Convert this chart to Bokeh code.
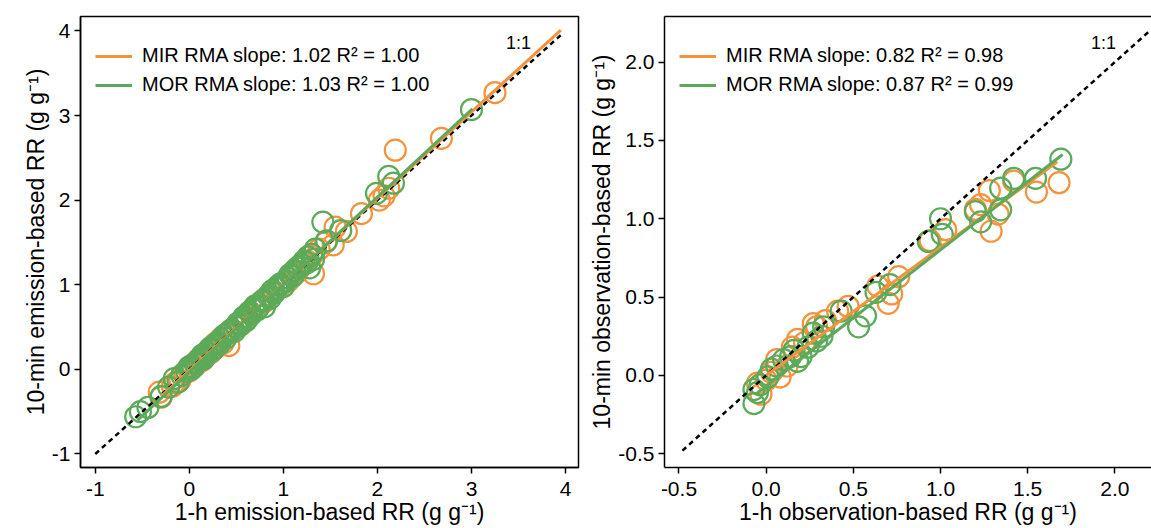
from bokeh.plotting import figure
from bokeh.layouts import row
from bokeh.models import Range1d, Legend, LegendItem, LinearAxis, FixedTicker, Label
from bokeh.embed import file_html
from bokeh.resources import INLINE

# ---------------- data ----------------
# Left panel: emission-based RR (1-h vs 10-min)
mir_em_x = [-0.32, -0.30, -0.18, -0.15, -0.10, -0.05, 0.00, 0.03, 0.07, 0.10,
            0.13, 0.17, 0.20, 0.23, 0.27, 0.30, 0.33, 0.36, 0.42, 0.40,
            0.45, 0.50, 0.55, 0.60, 0.65, 0.70, 0.75, 0.80, 0.85, 0.90,
            0.95, 1.00, 1.05, 1.10, 1.15, 1.20, 1.25, 1.30, 1.32, 1.38,
            1.45, 1.53, 1.55, 1.67, 1.83, 2.02, 2.07, 2.12, 2.19, 2.68, 3.25]
mir_em_y = [-0.27, -0.33, -0.20, -0.16, -0.13, -0.04, -0.02, 0.05, 0.05, 0.12,
            0.10, 0.18, 0.22, 0.20, 0.30, 0.27, 0.36, 0.31, 0.28, 0.42,
            0.45, 0.52, 0.53, 0.62, 0.66, 0.70, 0.78, 0.80, 0.88, 0.92,
            0.96, 1.02, 1.04, 1.14, 1.15, 1.25, 1.28, 1.34, 1.13, 1.42,
            1.50, 1.47, 1.68, 1.63, 1.84, 2.00, 2.05, 2.14, 2.59, 2.73, 3.27]
mor_em_x = [-0.57, -0.52, -0.44, -0.30, -0.22, -0.12, -0.16, -0.08, -0.03, 0.00,
            0.04, 0.08, 0.12, 0.15, 0.19, 0.22, 0.26, 0.30, 0.34, 0.37,
            0.41, 0.45, 0.48, 0.52, 0.56, 0.60, 0.64, 0.68, 0.72, 0.77,
            0.80, 0.84, 0.88, 0.93, 0.97, 1.02, 1.07, 1.12, 1.17, 1.22,
            1.26, 1.30, 1.34, 1.28, 1.42, 1.46, 1.61, 1.99, 2.12, 2.17, 3.00,
            0.02, 0.06, 0.10, 0.14, 0.17, 0.24, 0.28, 0.32, 0.39, 0.43,
            0.50, 0.54, 0.58, 0.62, 0.66, 0.70, 0.74, 0.79, 0.86, 0.90,
            0.95, 1.00, 1.05, 1.10, 1.15, 1.20, 1.25, 1.32]
mor_em_y = [-0.56, -0.50, -0.45, -0.32, -0.21, -0.15, -0.11, -0.07, -0.02, 0.03,
            0.02, 0.09, 0.14, 0.12, 0.20, 0.25, 0.24, 0.32, 0.35, 0.40,
            0.43, 0.47, 0.45, 0.55, 0.58, 0.57, 0.68, 0.72, 0.70, 0.80,
            0.74, 0.87, 0.93, 0.96, 1.01, 1.04, 1.12, 1.17, 1.22, 1.28,
            1.33, 1.36, 1.42, 1.20, 1.74, 1.52, 1.64, 2.08, 2.28, 2.20, 3.07,
            0.00, 0.07, 0.11, 0.17, 0.15, 0.22, 0.29, 0.30, 0.37, 0.44,
            0.50, 0.52, 0.62, 0.60, 0.65, 0.75, 0.74, 0.82, 0.84, 0.90,
            0.99, 0.98, 1.08, 1.10, 1.20, 1.23, 1.26, 1.30]
mir_em_fit_x = [-0.30, 3.95]
mir_em_fit_y = [-0.32, 4.01]
mor_em_fit_x = [-0.55, 3.01]
mor_em_fit_y = [-0.60, 3.08]
one_em = [-1.0, 3.97]

# Right panel: observation-based RR (1-h vs 10-min)
mir_ob_x = [-0.05, -0.03, 0.00, 0.03, 0.06, 0.08, 0.12, 0.15, 0.18, 0.22,
            0.27, 0.29, 0.34, 0.41, 0.47, 0.64, 0.70, 0.72, 0.76, 0.94,
            1.03, 1.20, 1.23, 1.28, 1.29, 1.33, 1.42, 1.55, 1.68]
mir_ob_y = [-0.05, -0.12, -0.03, 0.02, 0.10, -0.01, 0.06, 0.18, 0.23, 0.21,
            0.33, 0.31, 0.35, 0.41, 0.44, 0.57, 0.46, 0.52, 0.63, 0.86,
            0.93, 1.06, 1.09, 1.18, 0.92, 1.03, 1.24, 1.17, 1.23]
mor_ob_x = [-0.07, -0.07, -0.05, -0.035, 0.01, 0.03, 0.06, 0.10, 0.14, 0.16,
            0.18, 0.20, 0.24, 0.27, 0.29, 0.32, 0.33, 0.43, 0.53, 0.57,
            0.63, 0.71, 0.93, 1.00, 1.01, 1.20, 1.23, 1.345, 1.345, 1.42,
            1.545, 1.69]
mor_ob_y = [-0.18, -0.09, -0.11, -0.06, -0.01, 0.04, 0.06, 0.10, 0.12, 0.16,
            0.09, 0.12, 0.18, 0.27, 0.22, 0.25, 0.31, 0.41, 0.31, 0.38,
            0.53, 0.58, 0.855, 1.00, 0.90, 1.046, 0.98, 1.195, 1.057, 1.258,
            1.258, 1.38]
mir_ob_fit_x = [0.00, 1.67]
mir_ob_fit_y = [0.00, 1.364]
mor_ob_fit_x = [-0.06, 1.70]
mor_ob_fit_y = [-0.12, 1.41]
one_ob = [-0.48, 2.20]

em_ticks = [-1, 0, 1, 2, 3, 4]
ob_ticks = [-0.5, 0.0, 0.5, 1.0, 1.5, 2.0]

labels_em = ["MIR RMA slope: 1.02 R\u00b2 = 1.00", "MOR RMA slope: 1.03 R\u00b2 = 1.00"]
labels_ob = ["MIR RMA slope: 0.82 R\u00b2 = 0.98", "MOR RMA slope: 0.87 R\u00b2 = 0.99"]

ORANGE = "#F5923E"
GREEN = "#5BAA5A"
FONT = "Liberation Sans"


def style_axis(ax, ticks, fmt):
    ax.ticker = FixedTicker(ticks=ticks)
    ax.major_label_overrides = {t: fmt(t) for t in ticks}
    ax.axis_line_width = 1.5
    ax.axis_line_color = "black"
    ax.major_tick_line_width = 1.5
    ax.major_tick_line_color = "black"
    ax.major_tick_out = 6
    ax.major_tick_in = 0
    ax.minor_tick_line_color = None
    ax.major_label_text_font = FONT
    ax.major_label_text_font_size = "21px"
    ax.major_label_text_color = "black"
    ax.axis_label_text_font = FONT
    ax.axis_label_text_font_size = "23px"
    ax.axis_label_text_font_style = "normal"
    ax.axis_label_text_color = "black"


def panel(width, border_left, border_right, xr, yr, ticks, fmt, xlabel, ylabel,
          mir_x, mir_y, mor_x, mor_y, mir_fx, mir_fy, mor_fx, mor_fy, one,
          labels, onetxt_xy, outline, ylab_standoff):
    p = figure(width=width, height=528, output_backend="svg", toolbar_location=None,
               x_range=Range1d(*xr), y_range=Range1d(*yr),
               min_border_left=border_left, min_border_right=border_right,
               min_border_top=16, min_border_bottom=61)
    p.grid.visible = False
    p.background_fill_color = "white"
    p.border_fill_color = "white"
    xax = p.below[0]
    yax = p.left[0]
    style_axis(xax, ticks, fmt)
    style_axis(yax, ticks, fmt)
    xax.axis_label = xlabel
    yax.axis_label = ylabel
    xax.major_label_standoff = 8
    xax.axis_label_standoff = 0
    yax.major_label_standoff = 4
    yax.axis_label_standoff = ylab_standoff
    if outline:
        p.outline_line_color = "black"
        p.outline_line_width = 1.5
    else:
        p.outline_line_color = None
        top = LinearAxis(ticker=FixedTicker(ticks=[]), major_label_text_font_size="0px",
                         major_tick_out=0, major_tick_in=0, major_label_standoff=0,
                         axis_label_standoff=0,
                         axis_line_width=1.5, axis_line_color="black",
                         minor_tick_line_color=None, minor_tick_out=0, minor_tick_in=0)
        p.add_layout(top, "above")

    p.scatter(mir_x, mir_y, marker="circle", size=21, fill_color=None,
              line_color=ORANGE, line_width=2.2)
    p.scatter(mor_x, mor_y, marker="circle", size=21, fill_color=None,
              line_color=GREEN, line_width=2.2)
    p.line(one, one, line_color="black", line_width=2.5, line_dash="5 4")
    r1 = p.line(mir_fx, mir_fy, line_color=ORANGE, line_width=3)
    r2 = p.line(mor_fx, mor_fy, line_color=GREEN, line_width=3)

    p.add_layout(Label(x=onetxt_xy[0], y=onetxt_xy[1], text="1:1", text_font=FONT,
                       text_font_size="18px", text_align="center",
                       text_baseline="middle", text_color="black"))

    leg = Legend(items=[LegendItem(label=labels[0], renderers=[r1]),
                        LegendItem(label=labels[1], renderers=[r2])],
                 location=(15, 371), padding=0, margin=0, spacing=6,
                 glyph_width=37, glyph_height=20, label_height=20,
                 label_standoff=10, label_text_font=FONT,
                 label_text_font_size="20px", label_text_color="black",
                 border_line_alpha=0, background_fill_alpha=0)
    p.add_layout(leg)
    return p


fmt_em = lambda t: str(int(t))
fmt_ob = lambda t: "%.1f" % t

p1 = panel(580, 80, 2, (-1.157, 4.138), (-1.16, 4.17), em_ticks, fmt_em,
           "1-h emission-based RR (g g\u207b\u00b9)",
           "10-min emission-based RR (g g\u207b\u00b9)",
           mir_em_x, mir_em_y, mor_em_x, mor_em_y,
           mir_em_fit_x, mir_em_fit_y, mor_em_fit_x, mor_em_fit_y, one_em,
           labels_em, (3.5, 3.86), True, 0)

p2 = panel(571, 84, 0, (-0.583, 2.21), (-0.588, 2.291), ob_ticks, fmt_ob,
           "1-h observation-based RR (g g\u207b\u00b9)",
           "10-min observation-based RR (g g\u207b\u00b9)",
           mir_ob_x, mir_ob_y, mor_ob_x, mor_ob_y,
           mir_ob_fit_x, mir_ob_fit_y, mor_ob_fit_x, mor_ob_fit_y, one_ob,
           labels_ob, (1.935, 2.125), False, 0)

layout = row(p1, p2)
open("out.html", "w").write(file_html(layout, INLINE))
